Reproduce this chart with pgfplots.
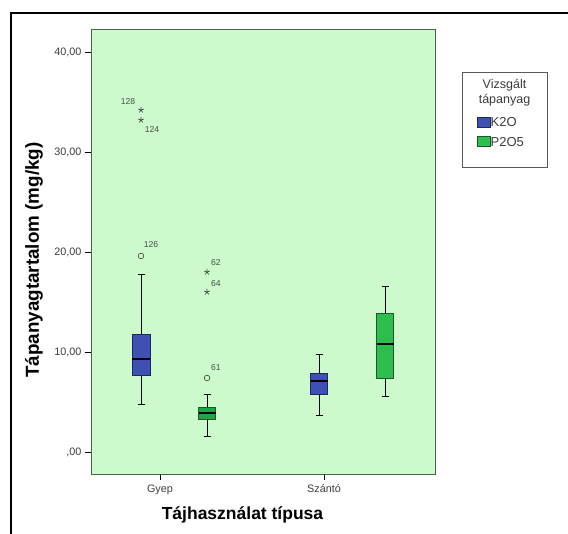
\documentclass[border=0pt]{standalone}
\usepackage{fontspec}
\setmainfont{Liberation Sans}
\usepackage{pgfplots}
\pgfplotsset{compat=1.18}
\definecolor{bgc}{RGB}{204,250,204}
\definecolor{kcol}{RGB}{62,80,178}
\definecolor{kdark}{RGB}{30,38,100}
\definecolor{pcol}{RGB}{46,190,80}
\definecolor{pdark}{RGB}{25,90,40}
\definecolor{framec}{RGB}{70,100,70}
\definecolor{ticktext}{RGB}{60,60,60}
\definecolor{outl}{RGB}{70,80,70}
\begin{document}
\begin{tikzpicture}[x=1pt,y=1pt]
\useasboundingbox (0,0) rectangle (568,534);
\fill[white] (0,0) rectangle (568,534);
\draw[line width=1.4pt] (11,-10) -- (11,521) -- (580,521);
\begin{axis}[
  at={(91pt,60pt)}, anchor=south west,
  width=344pt, height=445pt, scale only axis,
  xmin=91, xmax=435, ymin=-2.2, ymax=42.3,
  axis background/.style={fill=bgc},
  axis line style={framec, line width=0.8pt},
  xtick={160,324}, xticklabels={Gyep,Szántó},
  ytick={0,10,20,30,40},
  yticklabels={{,00},{10,00},{20,00},{30,00},{40,00}},
  xtick pos=bottom, ytick pos=left,
  tick align=outside, major tick length=6pt,
  tick style={black, line width=0.7pt},
  ticklabel style={font=\fontsize{10.8}{13}\selectfont, text=ticktext},
  xticklabel style={yshift=-1pt},
  clip=false,
  whisk/.style={black, line width=0.8pt, mark=none},
  med/.style={black, line width=2.2pt, mark=none},
]
% ---- K2O Gyep: pos 141, w 18; 4.8 / 7.7 / 9.3 / 11.8 / 17.8
\addplot[whisk] coordinates {(141,11.8) (141,17.8)};
\addplot[whisk] coordinates {(141,4.8) (141,7.7)};
\addplot[whisk] coordinates {(137.5,17.8) (144.5,17.8)};
\addplot[whisk] coordinates {(137.5,4.8) (144.5,4.8)};
\addplot[fill=kcol, draw=kdark, line width=0.8pt, mark=none]
  coordinates {(132,7.7) (150,7.7) (150,11.8) (132,11.8)} -- cycle;
\addplot[med] coordinates {(132,9.3) (150,9.3)};
% ---- P2O5 Gyep: pos 207, w 17; 1.6 / 3.3 / 3.9 / 4.5 / 5.8
\addplot[whisk] coordinates {(207,4.5) (207,5.8)};
\addplot[whisk] coordinates {(207,1.6) (207,3.3)};
\addplot[whisk] coordinates {(203.5,5.8) (210.5,5.8)};
\addplot[whisk] coordinates {(203.5,1.6) (210.5,1.6)};
\addplot[fill=pcol!85!black, draw=pdark, line width=0.8pt, mark=none]
  coordinates {(198.5,3.3) (215.5,3.3) (215.5,4.5) (198.5,4.5)} -- cycle;
\addplot[med] coordinates {(198.5,3.9) (215.5,3.9)};
% ---- K2O Szanto: pos 319, w 17; 3.7 / 5.8 / 7.1 / 7.9 / 9.8
\addplot[whisk] coordinates {(319,7.9) (319,9.8)};
\addplot[whisk] coordinates {(319,3.7) (319,5.8)};
\addplot[whisk] coordinates {(315.5,9.8) (322.5,9.8)};
\addplot[whisk] coordinates {(315.5,3.7) (322.5,3.7)};
\addplot[fill=kcol, draw=kdark, line width=0.8pt, mark=none]
  coordinates {(310.5,5.8) (327.5,5.8) (327.5,7.9) (310.5,7.9)} -- cycle;
\addplot[med] coordinates {(310.5,7.1) (327.5,7.1)};
% ---- P2O5 Szanto: pos 385, w 17; 5.6 / 7.4 / 10.8 / 13.9 / 16.6
\addplot[whisk] coordinates {(385,13.9) (385,16.6)};
\addplot[whisk] coordinates {(385,5.6) (385,7.4)};
\addplot[whisk] coordinates {(381.5,16.6) (388.5,16.6)};
\addplot[whisk] coordinates {(381.5,5.6) (388.5,5.6)};
\addplot[fill=pcol, draw=pdark, line width=0.8pt, mark=none]
  coordinates {(376.5,7.4) (393.5,7.4) (393.5,13.9) (376.5,13.9)} -- cycle;
\addplot[med] coordinates {(376.5,10.8) (393.5,10.8)};
% extreme outliers (stars)
\addplot[only marks, mark=star, mark size=3pt, draw=outl, line width=0.7pt]
  coordinates {(141,34.2) (141,33.2) (207,18.0) (207,16.0)};
% mild outliers (circles)
\addplot[only marks, mark=o, mark size=2.8pt, draw=outl, line width=0.7pt]
  coordinates {(141,19.6) (207,7.4)};
\begin{scope}[font=\fontsize{8.6}{10}\selectfont, text=outl]
\node at (axis cs:128,35.0) {128};
\node at (axis cs:152,32.2) {124};
\node at (axis cs:151,20.7) {126};
\node at (axis cs:216,18.9) {62};
\node at (axis cs:216,16.8) {64};
\node at (axis cs:216,8.4) {61};
\end{scope}
\end{axis}
% axis titles
\node[font=\fontsize{17.5}{20}\selectfont\bfseries] at (242.5,19) {Tájhasználat típusa};
\node[font=\fontsize{18.8}{22}\selectfont\bfseries, rotate=90] at (34,274) {Tápanyagtartalom (mg/kg)};
% legend
\draw[gray!70!black, line width=0.6pt] (462,367) rectangle (547,462);
\node[font=\fontsize{12.5}{15}\selectfont, text=ticktext] at (504.5,449) {Vizsgált};
\node[font=\fontsize{12.5}{15}\selectfont, text=ticktext] at (504.5,434) {tápanyag};
\fill[kcol] (477,407) rectangle (490,417);
\draw[kdark, line width=0.4pt] (477,407) rectangle (490,417);
\node[anchor=west, inner sep=0pt, font=\fontsize{13}{15}\selectfont, text=ticktext] at (490.5,412) {K2O};
\fill[pcol] (477,388) rectangle (490,398);
\draw[pdark, line width=0.4pt] (477,388) rectangle (490,398);
\node[anchor=west, inner sep=0pt, font=\fontsize{13}{15}\selectfont, text=ticktext] at (490.5,392) {P2O5};
\end{tikzpicture}
\end{document}
